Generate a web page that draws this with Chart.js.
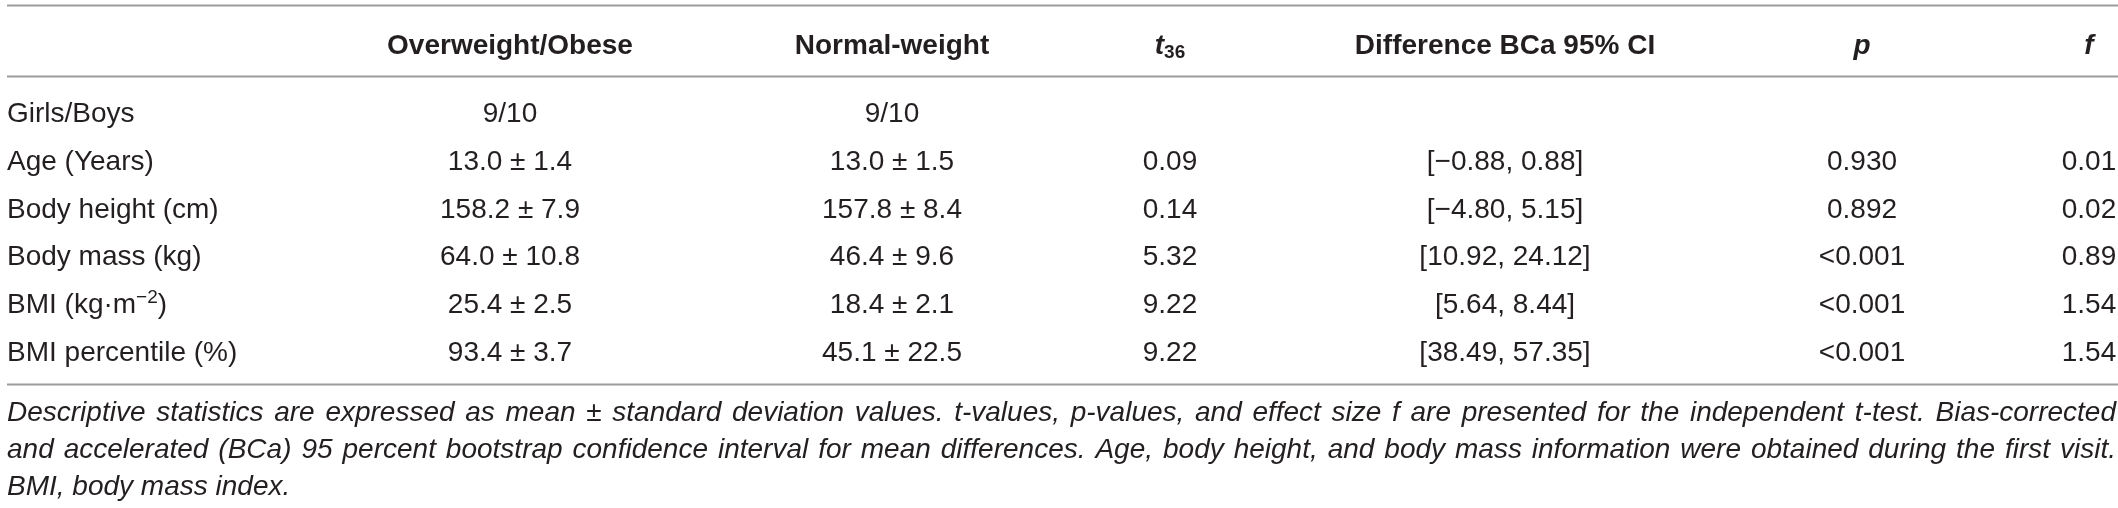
<!DOCTYPE html>
<html>
<head>
<meta charset="utf-8">
<title>Participant characteristics</title>
<script src="https://cdn.jsdelivr.net/npm/chart.js@4.4.1/dist/chart.umd.min.js"></script>
<style>
  html, body { margin: 0; padding: 0; background: #fff; }
  #wrap { width: 2118px; height: 508px; position: relative; }
</style>
</head>
<body>
<div id="wrap"><canvas id="tableChart"></canvas></div>
<script>
// Table contents. Markup: *italic*, _{subscript}, ^{superscript}
const headers = ['', 'Overweight/Obese', 'Normal-weight', '*t*_{36}', 'Difference BCa 95% CI', '*p*', '*f*'];
const rowLabels = ['Girls/Boys', 'Age (Years)', 'Body height (cm)', 'Body mass (kg)', 'BMI (kg·m^{−2})', 'BMI percentile (%)'];
const overweight = ['9/10', '13.0 ± 1.4', '158.2 ± 7.9', '64.0 ± 10.8', '25.4 ± 2.5', '93.4 ± 3.7'];
const normalWeight = ['9/10', '13.0 ± 1.5', '157.8 ± 8.4', '46.4 ± 9.6', '18.4 ± 2.1', '45.1 ± 22.5'];
const tValues = ['', '0.09', '0.14', '5.32', '9.22', '9.22'];
const ciValues = ['', '[−0.88, 0.88]', '[−4.80, 5.15]', '[10.92, 24.12]', '[5.64, 8.44]', '[38.49, 57.35]'];
const pValues = ['', '0.930', '0.892', '<0.001', '<0.001', '<0.001'];
const fValues = ['', '0.01', '0.02', '0.89', '1.54', '1.54'];
const footnoteLines = [
  'Descriptive statistics are expressed as mean ± standard deviation values. t-values, p-values, and effect size f are presented for the independent t-test. Bias-corrected',
  'and accelerated (BCa) 95 percent bootstrap confidence interval for mean differences. Age, body height, and body mass information were obtained during the first visit.',
  'BMI, body mass index.'
];

// Layout: x in canvas-width units, y in row units (data row i sits at y = i)
const colX = [7, 510, 892, 1170, 1505, 1862, 2089];
const colAlign = ['left', 'center', 'center', 'center', 'center', 'center', 'center'];
const headerRow = -0.43;
const ruleRows = [-1.23, 0.26, 6.70];
const footRows = [7.255, 8.03, 8.805];
const tableLeft = 7;
const tableRight = 2116;

const FONT = '"Liberation Sans", Arial, Helvetica, sans-serif';
const TEXT_COLOR = '#231f20';
const RULE_COLOR = '#9b9b9b';
const SIZE = 28;

const columns = [rowLabels, overweight, normalWeight, tValues, ciValues, pValues, fValues];

function parseRich(str) {
  const parts = [];
  const re = /\*([^*]+)\*|_\{([^}]+)\}|\^\{([^}]+)\}|([^*_^]+)/g;
  let m;
  while ((m = re.exec(str)) !== null) {
    if (m[1]) parts.push({ text: m[1], kind: 'italic' });
    else if (m[2]) parts.push({ text: m[2], kind: 'sub' });
    else if (m[3]) parts.push({ text: m[3], kind: 'sup' });
    else parts.push({ text: m[4], kind: 'normal' });
  }
  return parts;
}

function segFont(kind, cell) {
  const weight = cell.bold ? 'bold' : 'normal';
  let style = cell.italic ? 'italic' : 'normal';
  let size = SIZE;
  if (kind === 'italic') style = 'italic';
  if (kind === 'sub' || kind === 'sup') size = Math.round(SIZE * 0.68);
  return `${style} ${weight} ${size}px ${FONT}`;
}

function drawRich(ctx, str, x, y, cell) {
  if (!str) return;
  const parts = parseRich(str);
  let total = 0;
  parts.forEach(p => {
    ctx.font = segFont(p.kind, cell);
    p.w = ctx.measureText(p.text).width;
    total += p.w;
  });
  let cx = x;
  if (cell.align === 'center') cx = x - total / 2;
  else if (cell.align === 'right') cx = x - total;
  const base = y + SIZE * 0.36;
  parts.forEach(p => {
    ctx.font = segFont(p.kind, cell);
    let dy = 0;
    if (p.kind === 'sub') dy = SIZE * 0.16;
    if (p.kind === 'sup') dy = -SIZE * 0.36;
    ctx.fillText(p.text, cx, base + dy);
    cx += p.w;
  });
}

function drawJustified(ctx, str, x, y, width, cell) {
  ctx.font = segFont('normal', cell);
  const words = str.split(' ');
  const widths = words.map(w => ctx.measureText(w).width);
  const sum = widths.reduce((a, b) => a + b, 0);
  let gap = (width - sum) / (words.length - 1);
  const minGap = SIZE * 0.18;
  let squeeze = 1;
  if (gap < minGap) {
    squeeze = (width - minGap * (words.length - 1)) / sum;
    gap = minGap;
  }
  const base = y + SIZE * 0.36;
  let cx = x;
  words.forEach((w, i) => {
    ctx.save();
    ctx.translate(cx, base);
    ctx.scale(squeeze, 1);
    ctx.fillText(w, 0, 0);
    ctx.restore();
    cx += widths[i] * squeeze + gap;
  });
}

const cellText = {
  id: 'cellText',
  afterDatasetsDraw(chart) {
    const ctx = chart.ctx;
    ctx.save();
    ctx.fillStyle = TEXT_COLOR;
    ctx.textBaseline = 'alphabetic';
    ctx.textAlign = 'left';
    chart.data.datasets.forEach((ds, i) => {
      if (!ds.texts) return;
      const meta = chart.getDatasetMeta(i);
      meta.data.forEach((pt, j) => {
        const cell = ds.cells[j];
        if (cell.justify) {
          const w = chart.scales.x.getPixelForValue(tableRight) - pt.x;
          drawJustified(ctx, ds.texts[j], pt.x, pt.y, w, cell);
        } else {
          drawRich(ctx, ds.texts[j], pt.x, pt.y, cell);
        }
      });
    });
    ctx.restore();
  }
};

const datasets = [];

ruleRows.forEach((r, i) => {
  datasets.push({
    label: 'rule' + i,
    data: [{ x: tableLeft, y: r }, { x: 2118, y: r }],
    showLine: true,
    borderColor: RULE_COLOR,
    borderWidth: 2,
    pointRadius: 0,
    clip: false
  });
});

datasets.push({
  label: 'header',
  data: headers.map((h, c) => ({ x: colX[c], y: headerRow })),
  texts: headers,
  cells: headers.map((h, c) => ({ align: colAlign[c], bold: true })),
  pointRadius: 0
});

columns.forEach((col, c) => {
  datasets.push({
    label: headers[c] || 'label',
    data: col.map((t, i) => ({ x: colX[c], y: i + 1 })),
    texts: col,
    cells: col.map(() => ({ align: colAlign[c] })),
    pointRadius: 0
  });
});

datasets.push({
  label: 'footnote',
  data: footnoteLines.map((l, i) => ({ x: tableLeft, y: footRows[i] })),
  texts: footnoteLines,
  cells: footnoteLines.map((l, i) => ({
    align: 'left',
    italic: true,
    justify: i < footnoteLines.length - 1
  })),
  pointRadius: 0
});

const tableChart = new Chart(document.getElementById('tableChart'), {
  type: 'scatter',
  data: { datasets: datasets },
  options: {
    responsive: true,
    maintainAspectRatio: false,
    animation: false,
    events: [],
    layout: { padding: 0 },
    plugins: {
      legend: { display: false },
      tooltip: { enabled: false }
    },
    scales: {
      x: { type: 'linear', min: 0, max: 2118, display: false },
      y: { type: 'linear', min: -1.343, max: 9.285, reverse: true, display: false }
    }
  },
  plugins: [cellText]
});
</script>
</body>
</html>
